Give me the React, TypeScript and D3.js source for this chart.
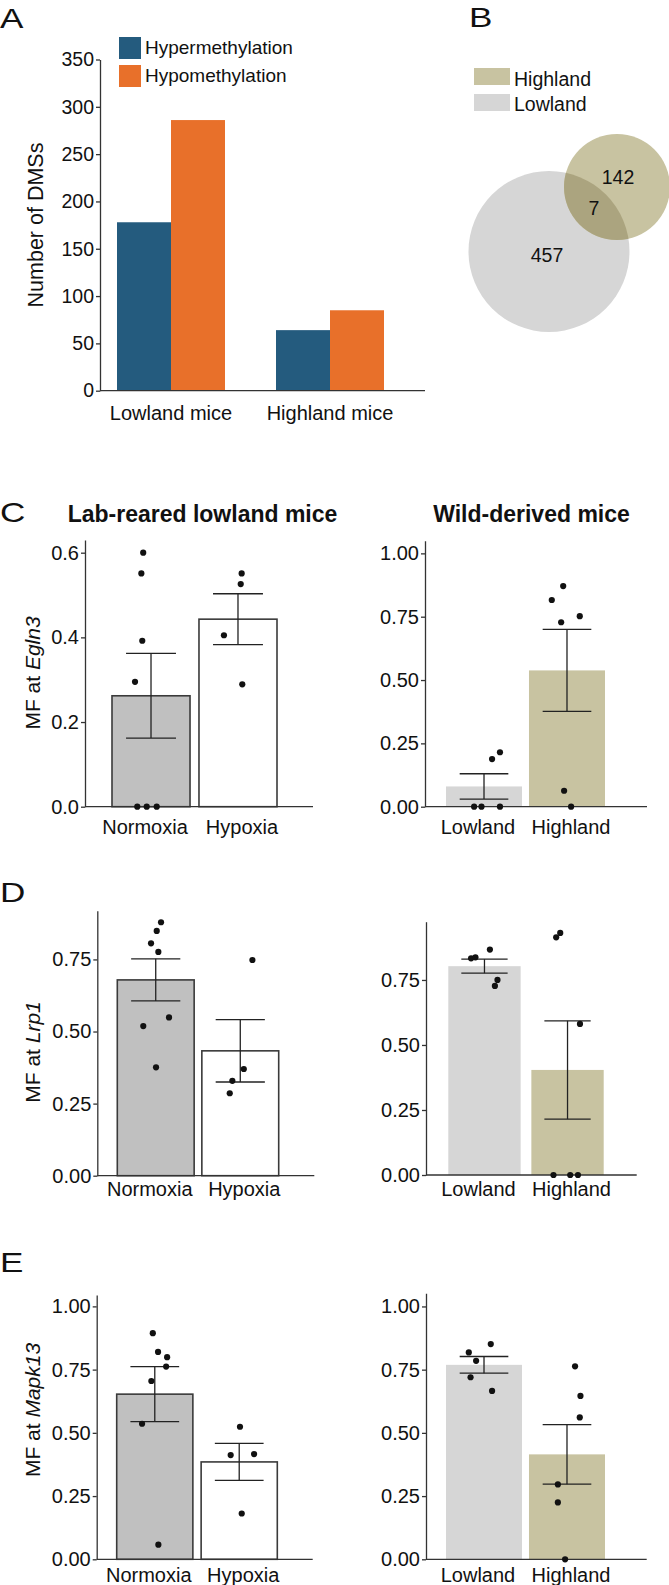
import { useEffect, useRef } from "react";
import * as d3 from "d3";

const W = 669;
const H = 1585;
const FONT = "'Liberation Sans', Arial, Helvetica, sans-serif";

// A: number of differentially methylated sites
const mouseGroups = ["Lowland mice", "Highland mice"];
const methylTypes = ["Hypermethylation", "Hypomethylation"];
const hyperCounts = [178, 64];
const hypoCounts = [286, 85];
const countTicks = [0, 50, 100, 150, 200, 250, 300, 350];

// B: shared DMSs
const vennNames = ["Highland", "Lowland"];
const vennCounts = [457, 7, 142]; // lowland only, shared, highland only

// C-E: methylation fraction per gene
const genes = ["Egln3", "Lrp1", "Mapk13"];
const labGroups = ["Normoxia", "Hypoxia"];
const wildGroups = ["Lowland", "Highland"];

const labMeans = [
  [0.262, 0.443],
  [0.679, 0.433],
  [0.653, 0.385],
];
const labSE = [
  [0.1, 0.06],
  [0.073, 0.108],
  [0.109, 0.073],
];
const wildMeans = [
  [0.08, 0.538],
  [0.803, 0.404],
  [0.769, 0.415],
];
const wildSE = [
  [0.05, 0.162],
  [0.027, 0.189],
  [0.033, 0.118],
];

// individual mice (value, horizontal jitter as a fraction of bar width)
const egln3Normoxia = [0.6, 0.551, 0.392, 0.295, 0, 0, 0];
const egln3NormoxiaJit = [-0.1, -0.124, -0.112, -0.205, -0.176, -0.055, 0.073];
const egln3Hypoxia = [0.551, 0.526, 0.405, 0.289];
const egln3HypoxiaJit = [0.047, 0.035, -0.18, 0.055];
const egln3Lowland = [0, 0, 0, 0.188, 0.215];
const egln3LowlandJit = [-0.13, -0.033, 0.21, 0.106, 0.21];
const egln3Highland = [0.871, 0.816, 0.752, 0.728, 0.063, 0];
const egln3HighlandJit = [-0.05, -0.2, 0.168, -0.077, -0.038, 0.054];

const lrp1Normoxia = [0.879, 0.849, 0.806, 0.776, 0.549, 0.519, 0.376];
const lrp1NormoxiaJit = [0.069, 0.013, -0.061, 0.034, 0.173, -0.162, 0.004];
const lrp1Hypoxia = [0.748, 0.37, 0.329, 0.286];
const lrp1HypoxiaJit = [0.158, 0.046, -0.103, -0.137];
const lrp1Lowland = [0.833, 0.837, 0.867, 0.75, 0.727];
const lrp1LowlandJit = [-0.185, -0.125, 0.075, 0.18, 0.144];
const lrp1Highland = [0.914, 0.931, 0.581, 0, 0, 0];
const lrp1HighlandJit = [-0.157, -0.101, 0.172, -0.194, 0.037, 0.144];

const mapk13Normoxia = [0.894, 0.82, 0.799, 0.762, 0.705, 0.536, 0.058];
const mapk13NormoxiaJit = [-0.026, 0.043, 0.162, 0.149, -0.045, -0.167, 0.047];
const mapk13Hypoxia = [0.524, 0.412, 0.416, 0.181];
const mapk13HypoxiaJit = [0.01, -0.112, 0.195, 0.033];
const mapk13Lowland = [0.851, 0.818, 0.785, 0.72, 0.666];
const mapk13LowlandJit = [0.089, -0.2, -0.104, -0.177, 0.106];
const mapk13Highland = [0.763, 0.646, 0.561, 0.296, 0.225, 0];
const mapk13HighlandJit = [0.106, 0.177, 0.168, -0.12, -0.12, -0.025];

const labTicks = [
  [0, 0.2, 0.4, 0.6],
  [0, 0.25, 0.5, 0.75],
  [0, 0.25, 0.5, 0.75, 1],
];
const wildTicks = [
  [0, 0.25, 0.5, 0.75, 1],
  [0, 0.25, 0.5, 0.75],
  [0, 0.25, 0.5, 0.75, 1],
];
const labFormats = [".1f", ".2f", ".2f"];

const labPoints = [
  [[egln3Normoxia, egln3NormoxiaJit], [egln3Hypoxia, egln3HypoxiaJit]],
  [[lrp1Normoxia, lrp1NormoxiaJit], [lrp1Hypoxia, lrp1HypoxiaJit]],
  [[mapk13Normoxia, mapk13NormoxiaJit], [mapk13Hypoxia, mapk13HypoxiaJit]],
];
const wildPoints = [
  [[egln3Lowland, egln3LowlandJit], [egln3Highland, egln3HighlandJit]],
  [[lrp1Lowland, lrp1LowlandJit], [lrp1Highland, lrp1HighlandJit]],
  [[mapk13Lowland, mapk13LowlandJit], [mapk13Highland, mapk13HighlandJit]],
];

// frame geometry for each small panel
const leftFrames = [
  { x0: 85, x1: 313, b0: 112, b1: 277, pad: 0.103, yTop: 540, yBase: 806.7, yMax: 0.63, xLab: 834, yLab: 673 },
  { x0: 97.3, x1: 314.3, b0: 117.3, b1: 278.7, pad: 0.091, yTop: 910.7, yBase: 1175.7, yMax: 0.919, xLab: 1196, yLab: 1052 },
  { x0: 96.7, x1: 312.7, b0: 116.7, b1: 277.3, pad: 0.098, yTop: 1295, yBase: 1559.3, yMax: 1.045, xLab: 1582, yLab: 1410 },
];
const rightFrames = [
  { x0: 425, x1: 647, b0: 446, b1: 605, pad: 0.084, yTop: 540.7, yBase: 806.7, yMax: 1.05, xLab: 834 },
  { x0: 426, x1: 636.7, b0: 448.3, b1: 603.7, pad: 0.129, yTop: 921.7, yBase: 1175, yMax: 0.974, xLab: 1196 },
  { x0: 426, x1: 646.7, b0: 446, b1: 605, pad: 0.084, yTop: 1293.3, yBase: 1559.3, yMax: 1.052, xLab: 1582 },
];
// category labels sit a little apart from the bar centres
const xLabShift = [-6, 4];

const AXIS = "#333";
const INK = "#111";

function styleAxis(g: any, size: number) {
  g.attr("font-family", FONT).attr("font-size", size);
  g.selectAll("path").attr("stroke", AXIS).attr("stroke-width", 1.3);
  g.selectAll("line").attr("stroke", AXIS).attr("stroke-width", 1.3);
  g.selectAll("text").attr("fill", INK);
}

function drawBarPanel(
  svg: any,
  f: any,
  groups: string[],
  means: number[],
  se: number[],
  pts: number[][][],
  ticks: number[],
  fmt: string,
  fills: string[],
  outlined: boolean
) {
  const y = d3.scaleLinear().domain([0, f.yMax]).range([f.yBase, f.yTop]);
  const x = d3.scaleBand<string>().domain(groups).range([f.b0, f.b1]).paddingInner(f.pad);
  const bw = x.bandwidth();
  const cx = (d: string) => (x(d) ?? 0) + bw / 2;
  const g = svg.append("g");

  g.selectAll("rect")
    .data(groups)
    .join("rect")
    .attr("x", (d: string) => x(d))
    .attr("y", (_: string, i: number) => y(means[i]))
    .attr("width", bw)
    .attr("height", (_: string, i: number) => f.yBase - y(means[i]))
    .attr("fill", (_: string, i: number) => fills[i])
    .attr("stroke", outlined ? "#3a3a3a" : "none")
    .attr("stroke-width", 1.6);

  const yAxis = g
    .append("g")
    .attr("transform", `translate(${f.x0},0)`)
    .call(
      d3
        .axisLeft(y)
        .tickValues(ticks)
        .tickFormat(d3.format(fmt) as any)
        .tickSize(4)
        .tickSizeOuter(0)
        .tickPadding(2)
    );
  styleAxis(yAxis, 20);

  g.append("line")
    .attr("x1", f.x0)
    .attr("x2", f.x1)
    .attr("y1", f.yBase)
    .attr("y2", f.yBase)
    .attr("stroke", AXIS)
    .attr("stroke-width", 1.3);

  // mean +/- SE
  const err = g.append("g").attr("stroke", "#222").attr("stroke-width", 1.3);
  groups.forEach((d, i) => {
    const hi = y(means[i] + se[i]);
    const lo = y(means[i] - se[i]);
    const c = cx(d);
    const cap = bw * 0.32;
    err.append("line").attr("x1", c).attr("x2", c).attr("y1", hi).attr("y2", lo);
    err.append("line").attr("x1", c - cap).attr("x2", c + cap).attr("y1", hi).attr("y2", hi);
    err.append("line").attr("x1", c - cap).attr("x2", c + cap).attr("y1", lo).attr("y2", lo);
  });

  const dots = groups.flatMap((d, i) =>
    pts[i][0].map((v, k) => ({ g: d, v, j: pts[i][1][k] }))
  );
  g.append("g")
    .selectAll("circle")
    .data(dots)
    .join("circle")
    .attr("cx", (d: any) => cx(d.g) + d.j * bw)
    .attr("cy", (d: any) => y(d.v))
    .attr("r", 3.1)
    .attr("fill", INK);

  g.append("g")
    .selectAll("text")
    .data(groups)
    .join("text")
    .attr("x", (d: string, i: number) => cx(d) + xLabShift[i])
    .attr("y", f.xLab)
    .attr("text-anchor", "middle")
    .attr("font-family", FONT)
    .attr("font-size", 20)
    .attr("fill", INK)
    .text((d: string) => d);
}

export default function App() {
  const ref = useRef<SVGSVGElement | null>(null);

  useEffect(() => {
    if (!ref.current) return;
    const svg = d3.select(ref.current);
    svg.selectAll("*").remove();

    svg.append("rect").attr("width", W).attr("height", H).attr("fill", "#fff");

    // panel letters are set wide and light
    const letter = (t: string, x: number, y: number) =>
      svg
        .append("text")
        .attr("transform", `translate(${x},${y}) scale(1.3,1)`)
        .attr("font-family", FONT)
        .attr("font-size", 27)
        .attr("fill", INK)
        .text(t);

    // ---------- A ----------
    const blue = "#245b7e";
    const orange = "#e8702a";
    const yA = d3.scaleLinear().domain([0, 350]).range([390.7, 59.5]);
    const xA = d3.scalePoint<string>().domain(mouseGroups).range([91.5, 409.5]).padding(0.5);
    const xSub = d3.scaleBand<string>().domain(methylTypes).range([-54, 54]);
    const countsA = [hyperCounts, hypoCounts];
    const colorsA = [blue, orange];

    const gA = svg.append("g");
    methylTypes.forEach((m, s) => {
      gA.append("g")
        .selectAll("rect")
        .data(mouseGroups)
        .join("rect")
        .attr("x", (d: string) => (xA(d) ?? 0) + (xSub(m) ?? 0))
        .attr("y", (_: string, i: number) => yA(countsA[s][i]))
        .attr("width", xSub.bandwidth())
        .attr("height", (_: string, i: number) => yA(0) - yA(countsA[s][i]))
        .attr("fill", colorsA[s]);
    });
    const axA = gA
      .append("g")
      .attr("transform", "translate(100,0)")
      .call(d3.axisLeft(yA).tickValues(countTicks).tickSize(4).tickSizeOuter(0).tickPadding(2));
    styleAxis(axA, 19.5);
    gA.append("line")
      .attr("x1", 100)
      .attr("x2", 425)
      .attr("y1", yA(0))
      .attr("y2", yA(0))
      .attr("stroke", AXIS)
      .attr("stroke-width", 1.3);
    gA.append("g")
      .selectAll("text")
      .data(mouseGroups)
      .join("text")
      .attr("x", (d: string) => xA(d))
      .attr("y", 420)
      .attr("text-anchor", "middle")
      .attr("font-family", FONT)
      .attr("font-size", 20)
      .attr("fill", INK)
      .text((d: string) => d);
    gA.append("text")
      .attr("transform", "translate(43,225) rotate(-90)")
      .attr("text-anchor", "middle")
      .attr("font-family", FONT)
      .attr("font-size", 21.5)
      .attr("fill", INK)
      .text("Number of DMSs");
    methylTypes.forEach((m, s) => {
      gA.append("rect")
        .attr("x", 119)
        .attr("y", 37 + s * 28)
        .attr("width", 22)
        .attr("height", 22)
        .attr("fill", colorsA[s]);
      gA.append("text")
        .attr("x", 145)
        .attr("y", 54 + s * 28)
        .attr("font-family", FONT)
        .attr("font-size", 19)
        .attr("fill", INK)
        .text(m);
    });
    letter("A", 0, 28);

    // ---------- B ----------
    const lowGrey = "#d6d6d6";
    const highTan = "#c8c3a1";
    const overlap = "#aba47f";
    const low = { cx: 549, cy: 251.5, r: 80.5 };
    const high = { cx: 617, cy: 187, r: 53 };
    const gB = svg.append("g");
    gB.append("defs")
      .append("clipPath")
      .attr("id", "high-clip")
      .append("circle")
      .attr("cx", high.cx)
      .attr("cy", high.cy)
      .attr("r", high.r);
    gB.append("circle").attr("cx", low.cx).attr("cy", low.cy).attr("r", low.r).attr("fill", lowGrey);
    gB.append("circle").attr("cx", high.cx).attr("cy", high.cy).attr("r", high.r).attr("fill", highTan);
    gB.append("circle")
      .attr("cx", low.cx)
      .attr("cy", low.cy)
      .attr("r", low.r)
      .attr("fill", overlap)
      .attr("clip-path", "url(#high-clip)");
    const vennLabelPos = [
      [547, 262],
      [594, 215],
      [618, 184],
    ];
    gB.append("g")
      .selectAll("text")
      .data(vennCounts)
      .join("text")
      .attr("x", (_: number, i: number) => vennLabelPos[i][0])
      .attr("y", (_: number, i: number) => vennLabelPos[i][1])
      .attr("text-anchor", "middle")
      .attr("font-family", FONT)
      .attr("font-size", 19.5)
      .attr("fill", INK)
      .text((d: number) => d);
    vennNames.forEach((n, i) => {
      gB.append("rect")
        .attr("x", 474)
        .attr("y", 68 + i * 26)
        .attr("width", 36)
        .attr("height", 17)
        .attr("fill", i === 0 ? highTan : lowGrey);
      gB.append("text")
        .attr("x", 514)
        .attr("y", 85.5 + i * 25.5)
        .attr("font-family", FONT)
        .attr("font-size", 19.5)
        .attr("fill", INK)
        .text(n);
    });
    letter("B", 469, 27);

    // ---------- C-E ----------
    const titles = [
      ["Lab-reared lowland mice", 202.5],
      ["Wild-derived mice", 531.5],
    ];
    titles.forEach(([t, x]) =>
      svg
        .append("text")
        .attr("x", x as number)
        .attr("y", 522)
        .attr("text-anchor", "middle")
        .attr("font-family", FONT)
        .attr("font-weight", "bold")
        .attr("font-size", 23)
        .attr("fill", INK)
        .text(t as string)
    );

    genes.forEach((gene, r) => {
      drawBarPanel(
        svg,
        leftFrames[r],
        labGroups,
        labMeans[r],
        labSE[r],
        labPoints[r],
        labTicks[r],
        labFormats[r],
        ["#c0c0c0", "#ffffff"],
        true
      );
      drawBarPanel(
        svg,
        rightFrames[r],
        wildGroups,
        wildMeans[r],
        wildSE[r],
        wildPoints[r],
        wildTicks[r],
        ".2f",
        [lowGrey, highTan],
        false
      );
      const lab = svg
        .append("text")
        .attr("transform", `translate(40,${leftFrames[r].yLab}) rotate(-90)`)
        .attr("text-anchor", "middle")
        .attr("font-family", FONT)
        .attr("font-size", 21)
        .attr("fill", INK);
      lab.append("tspan").text("MF at ");
      lab.append("tspan").attr("font-style", "italic").text(gene);
    });
    letter("C", 0, 522);
    letter("D", 0, 902);
    letter("E", 0, 1272);
  }, []);

  return (
    <svg
      ref={ref}
      width={W}
      height={H}
      style={{ position: "absolute", left: 0, top: 0, display: "block" }}
    />
  );
}
